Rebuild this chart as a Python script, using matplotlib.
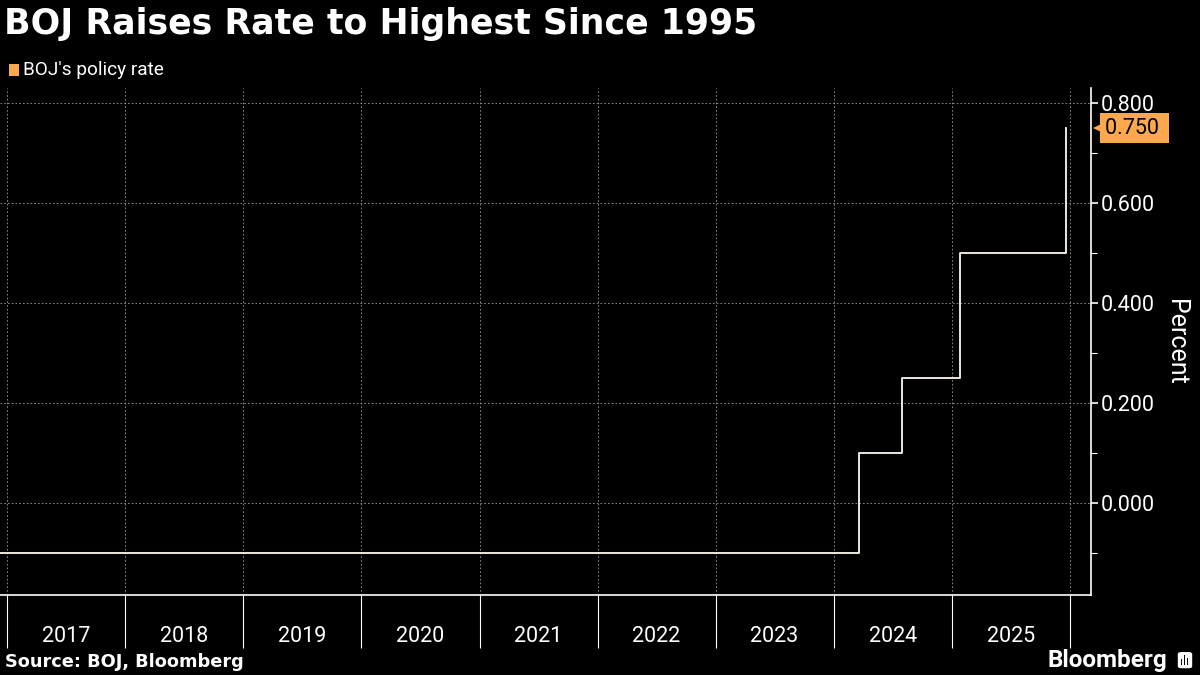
import datetime as dt
import matplotlib
matplotlib.use('agg')
import matplotlib.pyplot as plt
import matplotlib.dates as mdates
import matplotlib.transforms as mtransforms
from matplotlib.patches import Rectangle, FancyBboxPatch
from matplotlib.ticker import MultipleLocator, FormatStrFormatter

# BOJ policy rate, step changes (value holds until next date)
rate_dates = ['2016-01-01', '2024-03-19', '2024-07-31', '2025-01-24', '2025-12-19']
rate_values = [-0.1, 0.1, 0.25, 0.5, 0.75]
last_value = 0.75

ORANGE = '#fba94c'
BG = 'black'
FONT = ['Roboto', 'DejaVu Sans']
TITLE_FONT = ['DejaVu Sans']

plt.rcParams['font.family'] = FONT

dates = [dt.datetime.strptime(d, '%Y-%m-%d') for d in rate_dates]

fig = plt.figure(figsize=(12, 6.75), dpi=100, facecolor=BG)
ax = fig.add_axes([0.0, 0.1185, 0.909, 0.7511], facecolor=BG)

ax.step(dates, rate_values, where='post', color='#fffaf0', lw=1.3)

ax.set_xlim(dt.datetime(2016, 12, 10), dt.datetime(2026, 3, 6))
ax.set_ylim(-0.184, 0.83)

# x axis: year boundaries as long ticks, labels in the middle of each year
ax.xaxis.set_major_locator(mdates.YearLocator())
ax.xaxis.set_major_formatter(plt.NullFormatter())
ax.xaxis.set_minor_locator(mdates.MonthLocator(bymonth=7, bymonthday=2))
ax.xaxis.set_minor_formatter(mdates.DateFormatter('%Y'))
ax.tick_params(axis='x', which='major', length=38, width=0.8, color='white')
ax.tick_params(axis='x', which='minor', length=0, pad=22, labelsize=15.5,
               labelcolor='white')

# y axis on the right
ax.yaxis.tick_right()
ax.yaxis.set_label_position('right')
ax.yaxis.set_major_locator(MultipleLocator(0.2))
ax.yaxis.set_minor_locator(MultipleLocator(0.1))
ax.yaxis.set_major_formatter(FormatStrFormatter('%.3f'))
ax.tick_params(axis='y', which='major', length=5, width=1.2, color='white',
               labelsize=15.5, labelcolor='white', pad=2)
ax.tick_params(axis='y', which='minor', length=4, width=0.8, color='white')
ax.set_ylabel('Percent', color='white', fontsize=18, rotation=270,
              labelpad=24)

ax.grid(True, which='major', color='#9a9a9a', linestyle=(0, (2, 2.5)), lw=0.6)

for side in ['top', 'left']:
    ax.spines[side].set_visible(False)
for side in ['bottom', 'right']:
    ax.spines[side].set_color('white')
    ax.spines[side].set_linewidth(1.2)

# last value tag: small pointer plus orange box
trans = mtransforms.blended_transform_factory(ax.transAxes, ax.transData)
ax.annotate('%.3f ' % last_value, xy=(1.0, last_value), xycoords=trans,
            xytext=(10, 0), textcoords='offset points', ha='left', va='center',
            fontsize=15.5, color='black',
            bbox=dict(boxstyle='square,pad=0.22', fc=ORANGE, ec='none'))
pointer = ax.plot([1.0], [last_value], marker='<', ms=9, color=ORANGE,
                  clip_on=False, markeredgewidth=0)[0]
pointer.set_transform(trans + mtransforms.ScaledTranslation(
    6 / 72, 0, fig.dpi_scale_trans))

# title, legend, source
fig.text(0.003, 0.965, 'BOJ Raises Rate to Highest Since 1995', color='white',
         fontsize=25, fontweight='bold', family=TITLE_FONT, va='center')
fig.patches.append(Rectangle((0.0075, 0.888), 0.0085, 0.017,
                             transform=fig.transFigure, fc=ORANGE, ec='none'))
fig.text(0.0195, 0.896, "BOJ's policy rate", color='white', fontsize=13.7,
         va='center')
fig.text(0.004, 0.019, 'Source: BOJ, Bloomberg', color='white', fontsize=12.8,
         fontweight='bold', family=TITLE_FONT, va='center')
fig.text(0.973, 0.021, 'Bloomberg', color='white', fontsize=17.5,
         fontweight='bold', ha='right', va='center')
fig.patches.append(FancyBboxPatch((0.9815, 0.01), 0.012, 0.024,
                                  boxstyle='round,pad=0,rounding_size=0.003',
                                  transform=fig.transFigure, fc='white',
                                  ec='none'))
for i, h in enumerate([0.008, 0.014, 0.010]):
    fig.patches.append(Rectangle((0.9842 + i * 0.0025, 0.015), 0.0012, h,
                                 transform=fig.transFigure, fc='black',
                                 ec='none'))

fig.savefig('out.png', dpi=100, facecolor=BG)
